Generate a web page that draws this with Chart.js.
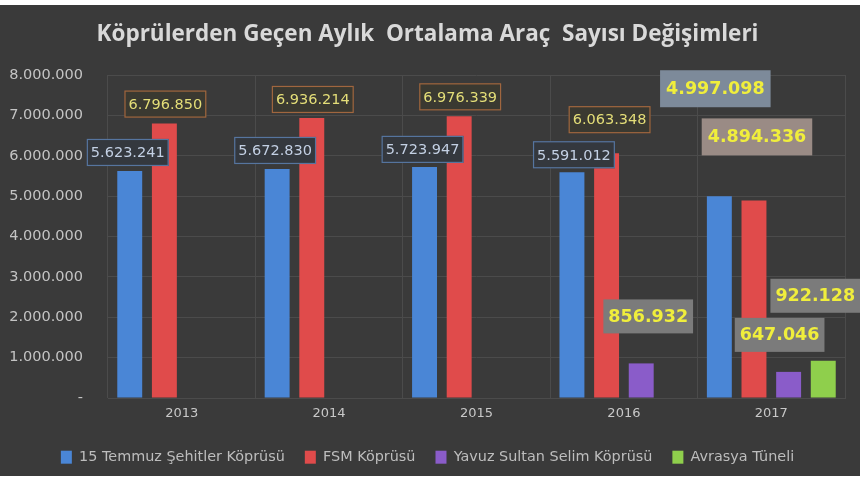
<!DOCTYPE html>
<html>
<head>
<meta charset="utf-8">
<script src="https://cdn.jsdelivr.net/npm/chart.js@4"></script>
<style>
  html, body { margin: 0; padding: 0; background: #ffffff; }
  #wrap { position: absolute; left: 0; top: 5px; width: 860px; height: 471px; background: #3a3a3a; }
</style>
</head>
<body>
<div id="wrap"><canvas id="c"></canvas></div>
<script>
// veriler
const years = ['2013', '2014', '2015', '2016', '2017'];
const temmuz = [5623241, 5672830, 5723947, 5591012, 4997098];
const fsm = [6796850, 6936214, 6976339, 6063348, 4894336];
const yavuz = [null, null, null, 856932, 647046];
const avrasya = [null, null, null, null, 922128];
const seriesNames = ['15 Temmuz Şehitler Köprüsü', 'FSM Köprüsü', 'Yavuz Sultan Selim Köprüsü', 'Avrasya Tüneli'];
const seriesColors = ['#4a86d6', '#e04b4b', '#8a5cc9', '#8fcf4c'];
const chartTitle = 'Köprülerden Geçen Aylık  Ortalama Araç  Sayısı Değişimleri';

const TITLE_FONT = '"Open Sans", "DejaVu Sans", sans-serif';
const FONT = '"DejaVu Sans", sans-serif';

function fmt(v) {
    if (v === 0) return '-';
    return String(v).replace(/\B(?=(\d{3})+(?!\d))/g, '.');
}

// etiket kutuları (Excel'deki gibi elle yerleştirilmiş)
const boxStyles = {
    blue: { font: '14.5px ' + FONT, color: '#c3d0e4', fill: '#34383e', stroke: '#56759f', h: 27, padX: 4 },
    red: { font: '14.5px ' + FONT, color: '#e4de78', fill: '#3a3931', stroke: '#a0663f', h: 27, padX: 4 },
    bigBlue: { font: 'bold 17.5px ' + FONT, color: '#f0ee3c', fill: '#7d8a9a', stroke: null, h: 37, padX: 6 },
    bigRed: { font: 'bold 17.5px ' + FONT, color: '#f0ee3c', fill: '#9a8b85', stroke: null, h: 37, padX: 6 },
    bigGrey: { font: 'bold 17.5px ' + FONT, color: '#f0ee3c', fill: '#7b7b7b', stroke: null, h: 34, padX: 5 },
};
// [dataset, index, style, dx, gap]
const labelLayout = [
    [0, 0, 'blue', -2, 5], [0, 1, 'blue', -2, 5], [0, 2, 'blue', -2, 4], [0, 3, 'blue', 2, 4],
    [1, 0, 'red', 1, 6], [1, 1, 'red', 1, 5], [1, 2, 'red', 1, 6], [1, 3, 'red', 3, 20],
    [0, 4, 'bigBlue', -4, 89], [1, 4, 'bigRed', 3, 45],
    [2, 3, 'bigGrey', 7, 30], [2, 4, 'bigGrey', -9, 20], [3, 4, 'bigGrey', -8, 48],
];

const boxLabels = {
    id: 'boxLabels',
    afterInit(chart) {
        // lejant yüksekliğini sabitle (padding yatay boşluk için büyük tutuluyor)
        const lg = chart.legend;
        if (!lg) return;
        const orig = lg.fit;
        lg.fit = function () { orig.call(this); this.height = 42; };
    },
    afterDatasetsDraw(chart) {
        const ctx = chart.ctx;
        ctx.save();
        labelLayout.forEach(([d, i, s, dx, gap]) => {
            const st = boxStyles[s];
            const bar = chart.getDatasetMeta(d).data[i];
            const val = chart.data.datasets[d].data[i];
            if (!bar || val == null) return;
            const txt = fmt(val);
            ctx.font = st.font;
            const w = ctx.measureText(txt).width + st.padX * 2;
            const cx = bar.x + dx;
            const bottom = bar.y - gap;
            const x0 = cx - w / 2, y0 = bottom - st.h;
            ctx.fillStyle = st.fill;
            ctx.fillRect(x0, y0, w, st.h);
            if (st.stroke) {
                ctx.strokeStyle = st.stroke;
                ctx.lineWidth = 1.2;
                ctx.strokeRect(x0 + 0.5, y0 + 0.5, w - 1, st.h - 1);
            }
            ctx.fillStyle = st.color;
            ctx.textAlign = 'center';
            ctx.textBaseline = 'middle';
            ctx.fillText(txt, cx, y0 + st.h / 2 + 1);
        });
        ctx.restore();
    }
};

const seriesData = [temmuz, fsm, yavuz, avrasya];
const datasets = seriesData.map((arr, k) => ({
    label: seriesNames[k],
    data: arr,
    backgroundColor: seriesColors[k],
    borderWidth: 0,
    categoryPercentage: 0.94,
    barPercentage: 0.72,
}));

new Chart(document.getElementById('c'), {
    type: 'bar',
    data: { labels: years, datasets },
    plugins: [boxLabels],
    options: {
        responsive: true,
        maintainAspectRatio: false,
        animation: false,
        layout: { padding: { left: 10, right: 15, bottom: 4 } },
        plugins: {
            tooltip: { enabled: false },
            title: {
                display: true,
                text: chartTitle,
                color: '#d9d9d9',
                font: { family: TITLE_FONT, size: 22.5, weight: 'bold' },
                padding: { top: 16.5, bottom: 26.5 },
            },
            legend: {
                position: 'bottom',
                labels: {
                    color: '#bdbdbd',
                    font: { family: FONT, size: 14.4 },
                    boxWidth: 11,
                    boxHeight: 13,
                    padding: 20,
                },
            },
        },
        scales: {
            x: {
                grid: { color: '#4b4b4b', lineWidth: 1, drawTicks: false },
                border: { color: '#4b4b4b' },
                ticks: { color: '#c8c8c8', font: { family: FONT, size: 13 }, padding: 8 },
                afterFit(scale) { scale.height = 32; },
            },
            y: {
                min: 0,
                max: 8000000,
                grid: { color: '#4b4b4b', lineWidth: 1, drawTicks: false },
                border: { display: false },
                ticks: {
                    stepSize: 1000000,
                    color: '#c4c4c4',
                    font: { family: FONT, size: 14.5 },
                    padding: 25,
                    callback: v => fmt(v),
                },
                afterFit(scale) { scale.width = 98; },
            },
        },
    },
});
</script>
</body>
</html>
